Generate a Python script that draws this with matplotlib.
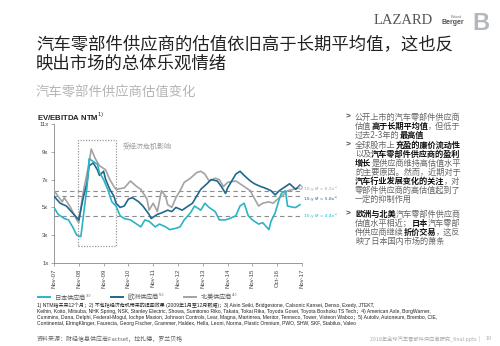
import numpy as np
import matplotlib
matplotlib.use("Agg")
import matplotlib.pyplot as plt
from matplotlib.lines import Line2D
from matplotlib.patches import Rectangle

plt.rcParams["font.family"] = ["Noto Sans CJK SC", "DejaVu Sans"]

# ---------------------------------------------------------------------------
# Data (months after Nov-07, EV/EBITDA NTM multiple)
# ---------------------------------------------------------------------------
na_month = [0, 4, 5, 8, 11, 12, 14, 17, 18, 20, 22, 25, 27, 29, 30, 34, 37, 40,
            42, 45, 46, 48, 50, 52, 54, 55, 57, 59, 61, 63, 66, 69, 71, 73, 75,
            78, 80, 82, 84, 88, 90, 92, 95, 96, 99, 101, 104, 106, 109, 111,
            113, 116, 118, 119]
na_value = [6.2, 5.4, 5.7, 5.0, 4.1, 3.9, 6.0, 8.2, 9.2, 8.5, 8.0, 7.7, 7.0, 6.5,
            6.3, 6.4, 6.9, 6.5, 6.3, 5.6, 4.8, 5.3, 4.7, 6.2, 5.8, 5.2, 5.0, 5.7,
            6.2, 6.8, 7.1, 7.5, 7.6, 7.4, 6.9, 7.1, 7.0, 6.5, 6.8, 6.9, 6.7, 6.5,
            6.2, 5.9, 5.1, 5.3, 5.4, 5.3, 5.7, 5.9, 6.2, 6.3, 6.4, 6.5]

eu_month = [0, 3, 6, 9, 12, 14, 16, 17, 19, 21, 22, 24, 25, 27, 29, 30, 32, 34,
            36, 38, 41, 43, 46, 47, 50, 52, 55, 57, 59, 62, 64, 67, 69, 71, 74,
            76, 79, 81, 83, 84, 86, 88, 90, 92, 95, 97, 100, 102, 105, 107, 109,
            112, 114, 117, 119]
eu_value = [5.8, 5.3, 5.1, 4.6, 4.1, 5.6, 6.8, 8.0, 8.2, 7.7, 7.3, 7.6, 7.0, 6.3,
            5.8, 5.3, 5.0, 5.1, 5.6, 5.7, 5.4, 5.1, 4.5, 4.2, 4.5, 4.6, 4.8, 4.7,
            5.0, 4.8, 5.0, 5.3, 5.8, 6.3, 6.7, 7.0, 6.9, 6.5, 6.0, 6.4, 6.9, 7.4,
            7.6, 7.3, 6.9, 6.7, 6.5, 6.4, 6.2, 5.9, 6.2, 6.5, 6.7, 6.3, 6.6]

jp_month = [0, 2, 5, 7, 9, 11, 13, 14, 16, 17, 19, 21, 22, 24, 26, 28, 30, 32,
            34, 37, 39, 42, 44, 46, 49, 51, 54, 56, 59, 61, 63, 66, 68, 71, 73,
            75, 78, 80, 83, 85, 88, 90, 92, 94, 96, 99, 101, 104, 105, 107, 109,
            110, 112, 113, 116, 117, 119]
jp_value = [5.0, 4.5, 4.2, 4.1, 3.6, 3.0, 2.9, 4.1, 6.5, 8.5, 8.3, 8.1, 7.5, 7.0,
            6.3, 5.4, 5.1, 4.4, 4.2, 4.1, 3.9, 3.6, 4.1, 4.0, 3.6, 3.8, 3.6, 3.4,
            3.5, 3.6, 4.1, 4.6, 5.1, 4.8, 5.3, 5.0, 4.7, 4.1, 4.1, 4.2, 4.4, 5.1,
            5.3, 4.4, 4.1, 3.8, 3.9, 3.4, 4.0, 4.6, 5.6, 6.0, 6.2, 5.1, 5.0, 5.0,
            5.2]

avg_values = [6.2, 5.8, 4.4]
avg_labels = ["10-y Ø = 6.2x⁴⁾", "10-y Ø = 5.8x⁵⁾", "10-y Ø = 4.4x³⁾"]
avg_label_shift = [0.14, -0.14, 0.0]

crisis_months = [11.5, 30.0]
crisis_range = [2.25, 9.85]

x_ticks = [0, 12, 24, 36, 48, 60, 72, 84, 96, 108, 120]
x_labels = ["Nov-07", "Nov-08", "Nov-09", "Nov-10", "Nov-11", "Nov-12",
            "Nov-13", "Nov-14", "Nov-15", "Oct-16", "Nov-17"]
y_ticks = [1, 3, 5, 7, 9, 11]

series_names = ["日本供应商$^{3)}$", "欧洲供应商$^{5)}$", "北美供应商$^{4)}$"]

C_JP = "#2ab4c6"
C_EU = "#1f688c"
C_NA = "#a3a3a3"
C_TXT = "#222222"
C_GREY = "#8c8c8c"

W, H = 500, 346


def fx(px):
    return px / W


def fy(py):
    return 1 - py / H


fig = plt.figure(figsize=(5.0, 3.46), dpi=100)
fig.patch.set_facecolor("white")

# ── header ──────────────────────────────────────────────────────────────────
fig.text(fx(374), fy(21), "LAZARD", family="Liberation Serif", fontsize=10.5,
         color="#555555", va="center", ha="left")
fig.text(fx(441), fy(23), "Berger", family="Liberation Sans", fontsize=5,
         color="#555555", va="center", ha="left", weight="bold")
fig.text(fx(451), fy(17), "Roland", family="Liberation Sans", fontsize=2.5,
         color="#777777", va="center", ha="left")
fig.text(fx(472), fy(23), "B", family="Liberation Sans", fontsize=17,
         color="#b4b8bc", va="center", ha="left", weight="bold")

fig.text(fx(36), fy(45), "汽车零部件供应商的估值依旧高于长期平均值，这也反",
         fontsize=12.5, color=C_TXT, va="center", ha="left")
fig.text(fx(36), fy(64), "映出市场的总体乐观情绪",
         fontsize=12.5, color=C_TXT, va="center", ha="left")
fig.text(fx(36), fy(92), "汽车零部件供应商估值变化",
         fontsize=9.6, color="#b5b5b5", va="center", ha="left")
fig.text(fx(37), fy(117), "EV/EBITDA NTM$^{1)}$", family="Liberation Sans",
         fontsize=5.6, weight="bold", color=C_TXT, va="center", ha="left")

# ── chart ───────────────────────────────────────────────────────────────────
ax = fig.add_axes([fx(54), fy(263), fx(302) - fx(54), fy(124) - fy(263)])
ax.set_xlim(0, 120)
ax.set_ylim(1, 11)

for v, lab, col, dv in zip(avg_values, avg_labels, [C_NA, C_EU, C_JP],
                           avg_label_shift):
    ax.axhline(v, color=C_GREY, lw=0.8, ls=(0, (4, 3)), zorder=1)
    ax.text(121, v + dv, lab, fontsize=3.2, color=col, va="center", ha="left",
            family="DejaVu Sans", clip_on=False)

ax.add_patch(Rectangle((crisis_months[0], crisis_range[0]),
                       crisis_months[1] - crisis_months[0],
                       crisis_range[1] - crisis_range[0],
                       fill=False, ec="#999999", lw=0.9, ls=(0, (1, 1.2)),
                       zorder=2))
ax.text(33, 9.35, "受经济危机影响", fontsize=5, color="#9a9a9a",
        va="center", ha="left")

ax.plot(na_month, na_value, color=C_NA, lw=1.2, zorder=3)
ax.plot(eu_month, eu_value, color=C_EU, lw=1.2, zorder=4)
ax.plot(jp_month, jp_value, color=C_JP, lw=1.2, zorder=5)
ax.plot(na_month[-1], na_value[-1], "o", ms=2.5, mfc="white", mec=C_NA,
        mew=0.7, zorder=6)

ax.set_xticks(x_ticks)
ax.set_xticklabels(x_labels, rotation=90, fontsize=4.3, color="#444444",
                   family="Liberation Sans")
ax.set_yticks(y_ticks)
ax.set_yticklabels([f"{t}x" for t in y_ticks], fontsize=4.3, color="#444444",
                   family="Liberation Sans")
ax.tick_params(length=2, width=0.5, color="#888888", pad=2)
for side in ("top", "right"):
    ax.spines[side].set_visible(False)
for side in ("left", "bottom"):
    ax.spines[side].set_color("#888888")
    ax.spines[side].set_linewidth(0.6)

# ── legend ──────────────────────────────────────────────────────────────────
leg_x = [38, 111, 184]
for x0, name, col in zip(leg_x, series_names, [C_JP, C_EU, C_NA]):
    fig.add_artist(Line2D([fx(x0), fx(x0 + 12)], [fy(297), fy(297)],
                          color=col, lw=1.4))
    fig.text(fx(x0 + 16), fy(297), name, fontsize=4.5, color="#555555",
             va="center", ha="left")

# ── footnotes ───────────────────────────────────────────────────────────────
notes = [
    "1) NTM指未来12个月；2) 不包括经济危机带来的扭曲效果 (2009年1月至12月数据)；"
    "3) Aisin Seiki, Bridgestone, Calsonic Kansei, Denso, Exedy, JTEKT,",
    "Keihin, Koito, Mitsuba, NHK Spring, NSK, Stanley Electric, Showa, Sumitomo Riko, "
    "Takata, Tokai Rika, Toyoda Gosei, Toyota Boshoku TS Tech；4) American Axle, BorgWarner,",
    "Cummins, Dana, Delphi, Federal-Mogul, Iochpe Maxion, Johnson Controls, Lear, Magna, "
    "Martinrea, Meritor, Tenneco, Tower, Visteon Wabco；5) Autoliv, Autoneum, Brembo, CIE,",
    "Continental, ElringKlinger, Faurecia, Georg Fischer, Grammer, Haldex, Hella, Leoni, "
    "Norma, Plastic Omnium, PWO, SHW, SKF, Stabilus, Valeo",
]
for i, line in enumerate(notes):
    fig.text(fx(37), fy(305 + i * 6.3), line, fontsize=3.6, color=C_TXT,
             family=["Liberation Sans", "Noto Sans CJK SC"],
             va="center", ha="left")

fig.text(fx(37), fy(339), "资料来源：财经信息供应商Factset，拉扎德，罗兰贝格",
         fontsize=4.3, color="#666666", va="center", ha="left")
fig.text(fx(480), fy(339), "2018年全球汽车零部件供应商研究_final.pptx  |",
         fontsize=3.8, color="#aaaaaa", va="center", ha="right")
fig.text(fx(486), fy(339), "10", fontsize=3.8, color="#aaaaaa",
         va="center", ha="left", family="Liberation Sans")

# ── bullet text with bold runs ──────────────────────────────────────────────
renderer = fig.canvas.get_renderer()


def rich_line(x_px, y_px, runs, size=5.9):
    x = fx(x_px)
    for txt, bold in runs:
        t = fig.text(x, fy(y_px), txt, fontsize=size, va="center", ha="left",
                     color="#111111" if bold else "#666666",
                     weight="bold" if bold else "normal")
        bb = t.get_window_extent(renderer=renderer)
        x += bb.width / fig.bbox.width


bullets = [
    (117, [[("公开上市的汽车零部件供应商", False)],
           [("估值", False), ("高于长期平均值", True), ("，但低于", False)],
           [("过去2-3年的", False), ("最高值", True)]]),
    (145, [[("全球股市上", False), ("充盈的廉价流动性", True)],
           [("以及", False), ("汽车零部件供应商的盈利", True)],
           [("增长", True), ("是供应商维持高估值水平", False)],
           [("的主要原因。然而，近期对于", False)],
           [("汽车行业发展变化的关注", True), ("，对", False)],
           [("零部件供应商的高估值起到了", False)],
           [("一定的抑制作用", False)]]),
    (214, [[("欧洲与北美", True), ("汽车零部件供应商", False)],
           [("估值水平相近；", False), ("日本", True), ("汽车零部", False)],
           [("件供应商继续", False), ("折价交易", True), ("，这反", False)],
           [("映了日本国内市场的萧条", False)]]),
]
for y0, lines in bullets:
    fig.text(fx(346), fy(y0), ">", fontsize=6, color="#444444",
             va="center", ha="left", family="Liberation Sans", weight="bold")
    for j, runs in enumerate(lines):
        rich_line(355, y0 + j * 9.1, runs)

fig.savefig("out.png", dpi=100)
